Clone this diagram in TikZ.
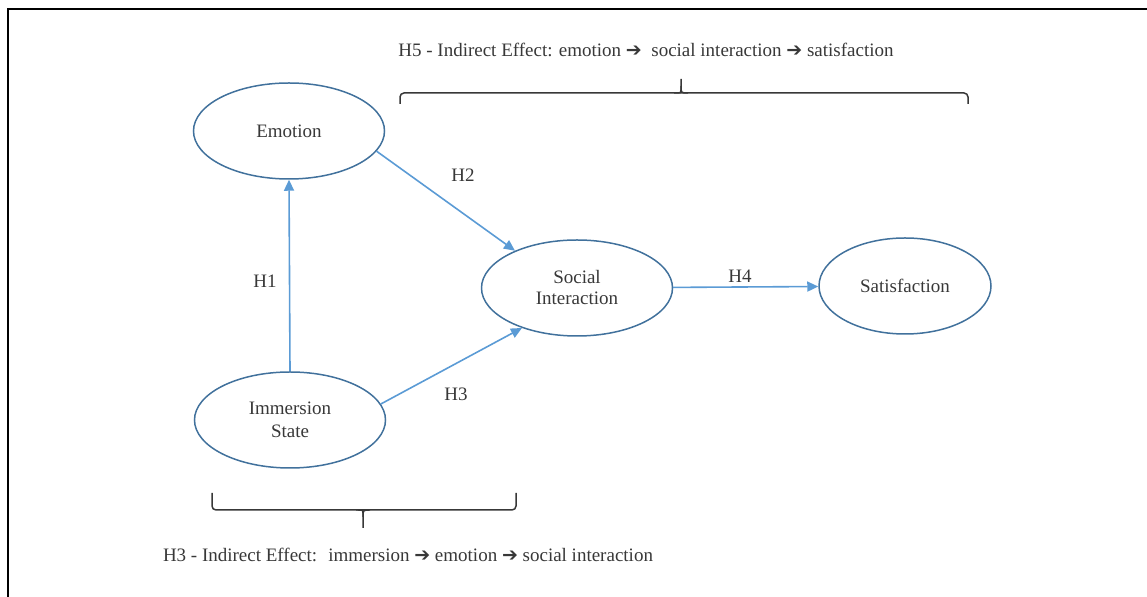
\documentclass[tikz,border=0pt]{standalone}
\usepackage{fontspec}
\setmainfont{Liberation Serif}
\newfontfamily\arrowfont{DejaVu Sans Bold}
\usetikzlibrary{arrows.meta,shapes.geometric}

\definecolor{ringblue}{HTML}{41719C}
\definecolor{linkblue}{HTML}{5B9BD5}
\definecolor{inkgray}{HTML}{383838}
\newcommand{\thenarrow}{{\arrowfont\char"2794}}

\tikzset{
  construct/.style={ellipse, draw=ringblue, line width=0.75pt, inner sep=0pt,
    minimum width=95.5pt, minimum height=48pt, align=center},
  link/.style={draw=linkblue, line width=0.8pt, -{Triangle[length=5.5pt,width=5pt]}},
  bracket/.style={draw=inkgray, line width=0.75pt, rounded corners=2pt},
}

\begin{document}
\begin{tikzpicture}[x=0.5pt, y=-0.5pt, font=\fontsize{9.5}{10.5}\selectfont,
    every node/.append style={text=inkgray}]
          \useasboundingbox (0,0) rectangle (1147,597);
          \draw[line width=1pt] (8,597) -- (8,9) -- (1147,9);

          \node[construct] (emo) at (289,131) {Emotion};
          \node[construct, font=\fontsize{9.5}{11.5}\selectfont] (imm) at (290,420) {Immersion\\State};
          \node[construct] (soc) at (577,288) {Social\\Interaction};
          \node[construct, minimum width=86pt] (sat) at (905,286) {Satisfaction};

          \node (h1) at (265,281) {H1};
          \node (h2) at (463,175) {H2};
          \node (h3) at (456,394) {H3};
          \node (h4) at (740,276) {H4};

          \draw[link] (imm.north) -- (emo.south);
          \draw[link] (emo.-13) -- (soc.149);
          \draw[link] (imm.10) -- (soc.216);
          \draw[link] (soc) -- (sat);

          \node (h5note) at (646,50) {H5 - Indirect Effect: emotion \thenarrow~ social interaction \thenarrow\ satisfaction};
          \node (h3note) at (408,555) {H3 - Indirect Effect:~ immersion \thenarrow\ emotion \thenarrow\ social interaction};

          \coordinate (topL) at (400,104);
          \coordinate (topR) at (968,104);
          \coordinate (topM) at (681,79);
          \draw[bracket] (topL) -- (400,93) -- (968,93) -- (topR);
          \draw[bracket] (674,93) .. controls (681,93) .. (681,86) -- (topM);
          \draw[bracket] (688,93) .. controls (681,93) .. (681,86);

          \coordinate (botL) at (212,493);
          \coordinate (botR) at (516,493);
          \coordinate (botM) at (363,528);
          \draw[bracket] (botL) -- (212,510) -- (516,510) -- (botR);
          \draw[bracket] (356,510) .. controls (363,510) .. (363,517) -- (botM);
          \draw[bracket] (370,510) .. controls (363,510) .. (363,517);
        \end{tikzpicture}
\end{document}
